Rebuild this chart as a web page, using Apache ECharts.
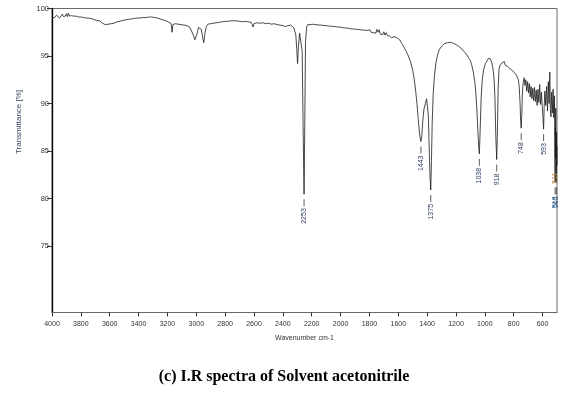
<!DOCTYPE html>
<html>
<head>
<meta charset="utf-8">
<script src="https://cdn.jsdelivr.net/npm/echarts@6/dist/echarts.min.js"></script>
<style>
html,body{margin:0;padding:0;background:#fff;}
#chart{width:579px;height:396px;}
</style>
</head>
<body>
<div id="chart"></div>
<script>
// IR spectrum of acetonitrile: [wavenumber cm-1, transmittance %]
const irSpectrum = [
[4000,99.15],[3993,99.3],[3986,99.0],[3980,99.2],[3974,99.05],[3968,99.3],[3962,99.1],[3955,99.25],
[3948,99.0],[3942,99.2],[3935,99.1],[3928,99.4],[3921,99.15],[3914,99.35],[3907,99.2],[3900,99.45],
[3893,99.15],[3886,99.5],[3879,99.2],[3872,99.4],[3865,99.25],[3858,99.45],[3851,99.2],[3844,99.4],
[3837,99.2],[3830,99.35],[3823,99.15],[3816,99.3],[3809,99.1],[3802,99.3],[3795,99.1],[3788,99.25],
[3781,99.05],[3774,99.2],[3767,99.0],[3760,99.15],[3750,99.0],[3740,99.1],[3730,98.95],[3720,99.0],
[3710,98.85],[3700,98.9],[3690,98.75],[3680,98.8],[3670,98.7],[3660,98.75],[3650,98.45],[3640,98.55],
[3630,98.3],[3620,98.5],[3610,98.35],[3600,98.5],[3590,98.4],[3580,98.6],[3570,98.45],[3560,98.65],
[3550,98.6],[3540,98.75],[3530,98.65],[3520,98.8],[3510,98.75],[3500,98.85],[3490,98.8],[3480,98.95],
[3470,98.85],[3460,99.0],[3450,98.9],[3440,99.05],[3430,98.95],[3420,99.1],[3410,99.0],[3400,99.1],
[3390,99.0],[3380,99.15],[3370,99.05],[3360,99.15],[3350,99.05],[3340,99.2],[3330,99.1],[3320,99.2],
[3310,99.1],[3300,99.15],[3290,99.05],[3280,99.1],[3270,99.0],[3260,99.05],[3250,98.9],[3240,98.95],
[3230,98.8],[3220,98.85],[3210,98.7],[3200,98.75],[3190,98.55],[3180,98.6],[3174,98.4],[3168,97.5],
[3162,98.3],[3155,98.5],[3145,98.4],[3135,98.5],[3125,98.35],[3115,98.45],[3105,98.3],[3095,98.4],
[3085,98.25],[3075,98.35],[3065,98.2],[3055,98.25],[3045,98.0],[3035,97.7],[3020,97.2],[3010,96.7],
[3003,96.5],[2995,97.3],[2985,98.0],[2975,98.2],[2965,97.8],[2955,96.9],[2948,96.4],[2940,97.4],
[2930,98.1],[2920,98.35],[2910,98.25],[2900,98.4],[2890,98.3],[2880,98.45],[2870,98.35],[2860,98.5],
[2850,98.4],[2840,98.55],[2830,98.45],[2820,98.6],[2810,98.5],[2800,98.65],[2790,98.55],[2780,98.65],
[2770,98.6],[2760,98.7],[2750,98.6],[2740,98.7],[2730,98.6],[2720,98.7],[2710,98.55],[2700,98.65],
[2690,98.55],[2680,98.6],[2670,98.5],[2660,98.65],[2650,98.5],[2640,98.6],[2630,98.5],[2620,98.55],
[2612,98.3],[2607,98.05],[2600,98.4],[2590,98.55],[2580,98.5],[2570,98.6],[2560,98.45],[2550,98.6],
[2540,98.5],[2530,98.55],[2520,98.4],[2510,98.55],[2500,98.45],[2490,98.5],[2480,98.35],[2470,98.5],
[2460,98.4],[2450,98.45],[2440,98.3],[2430,98.4],[2420,98.25],[2410,98.35],[2400,98.2],[2390,98.3],
[2382,98.1],[2374,97.9],[2365,98.2],[2355,98.35],[2345,98.25],[2335,98.3],[2325,98.0],[2318,97.9],
[2310,97.2],[2304,95.8],[2298,94.2],[2292,96.0],[2284,97.4],[2274,97.2],[2266,95.5],[2260,88.0],
[2253,80.45],[2248,88.0],[2243,96.5],[2235,98.05],[2228,98.3],[2220,98.15],[2212,98.3],[2204,98.2],
[2196,98.35],[2188,98.2],[2180,98.3],[2172,98.15],[2164,98.3],[2156,98.2],[2148,98.25],[2140,98.1],
[2132,98.25],[2124,98.1],[2116,98.2],[2108,98.05],[2100,98.2],[2092,98.05],[2084,98.15],[2076,98.0],
[2068,98.15],[2060,98.0],[2052,98.1],[2044,97.95],[2036,98.1],[2028,97.95],[2020,98.05],[2012,97.9],
[2004,98.05],[1996,97.9],[1988,98.0],[1980,97.85],[1972,97.95],[1964,97.8],[1956,97.95],[1948,97.8],
[1940,97.9],[1932,97.75],[1924,97.85],[1916,97.7],[1908,97.85],[1900,97.7],[1892,97.8],[1884,97.65],
[1876,97.8],[1868,97.65],[1860,97.75],[1852,97.6],[1844,97.75],[1836,97.6],[1828,97.7],[1820,97.55],
[1812,97.7],[1804,97.55],[1796,97.75],[1788,97.5],[1780,97.7],[1772,97.45],[1764,97.6],[1756,97.4],
[1748,97.8],[1740,97.5],[1732,97.75],[1724,97.3],[1716,97.5],[1708,97.25],[1700,97.55],[1692,97.2],
[1684,97.45],[1676,97.15],[1668,97.35],[1660,97.1],[1652,97.2],[1645,96.9],[1638,96.75],[1630,97.05],
[1622,97.15],[1614,96.95],[1605,96.9],[1590,96.7],[1575,96.3],[1560,95.9],[1545,95.5],[1530,95.0],
[1515,94.4],[1500,93.5],[1490,92.6],[1480,91.4],[1470,89.9],[1462,88.4],[1455,87.2],[1449,86.4],
[1443,86.0],[1437,86.6],[1430,88.2],[1422,89.4],[1412,90.0],[1404,90.5],[1398,90.3],[1392,88.8],
[1386,85.5],[1380,82.3],[1375,80.9],[1370,84.0],[1365,88.0],[1358,91.0],[1350,92.8],[1340,94.2],
[1328,95.1],[1315,95.7],[1300,96.0],[1290,96.15],[1280,96.3],[1270,96.25],[1260,96.4],[1250,96.35],
[1240,96.45],[1230,96.3],[1220,96.35],[1210,96.2],[1200,96.2],[1190,96.05],[1180,96.0],[1170,95.85],
[1160,95.75],[1150,95.6],[1140,95.4],[1130,95.25],[1120,95.0],[1110,94.75],[1100,94.5],[1092,94.1],
[1080,93.3],[1070,92.3],[1062,91.0],[1055,89.3],[1048,87.0],[1042,85.3],[1038,84.7],[1033,87.0],
[1026,90.5],[1018,92.5],[1008,93.6],[996,94.2],[984,94.5],[976,94.75],[970,94.6],[962,94.7],
[952,94.3],[944,93.7],[936,92.6],[930,90.5],[924,86.5],[918,84.1],[913,87.0],[908,91.5],
[902,93.6],[895,94.0],[888,93.8],[880,94.3],[872,94.1],[865,94.4],[858,94.0],[850,94.2],
[842,93.9],[835,94.1],[828,93.7],[820,93.9],[812,93.5],[805,93.7],[798,93.3],[790,93.4],
[782,93.0],[775,92.9],[768,92.5],[762,91.8],[756,90.0],[752,88.2],[748,87.4],[744,88.8],
[740,91.0],[734,92.3],[728,92.7],[722,91.9],[716,92.5],[710,91.3],[704,92.3],[698,91.1],
[692,92.1],[686,90.7],[680,91.8],[674,90.5],[668,91.6],[662,90.3],[656,91.7],[650,90.2],
[644,91.4],[638,89.8],[632,91.5],[626,90.1],[620,92.0],[614,89.9],[608,91.2],[602,89.6],
[597,88.5],[593,87.3],[589,89.6],[584,91.3],[578,89.8],[572,91.8],[566,89.2],[560,92.3],
[555,90.0],[550,93.3],[546,89.5],[542,88.6],[537,91.2],[532,89.0],[527,91.5],[522,88.5],
[518,90.8],[515,86.0],[513,81.7],[512,87.5],[511,84.2],[509,89.5],[507,86.0],[505,81.7],
[503,87.0],[501,83.5],[500,85.5]
];

// Peak annotations
const peakWavenumbers = [2253, 1443, 1375, 1038, 918, 748, 593, 511, 513, 505];
const peakTransmittance = [80.45, 86.0, 80.9, 84.7, 84.1, 87.4, 87.3, 84.2, 81.7, 81.7];
const peakColors = ['#2c3a66','#2c3a66','#2c3a66','#2c3a66','#2c3a66','#2c3a66','#2c3a66','#c07a28','#2c5a8a','#2c5a8a'];

// Axis ticks
const xTicks = [4000,3800,3600,3400,3200,3000,2800,2600,2400,2200,2000,1800,1600,1400,1200,1000,800,600];
const yTicks = [75,80,85,90,95,100];

const chart = echarts.init(document.getElementById('chart'), null, {renderer:'canvas'});
const font = 'Liberation Sans, Arial, sans-serif';

chart.setOption({
  animation: false,
  backgroundColor: '#fff',
  grid: {left: 52, right: 22, top: 8.5, bottom: 83.5, show: true, borderColor: '#6a6a6a', borderWidth: 1, containLabel: false},
  xAxis: {
    type: 'value', inverse: true, min: 500, max: 4000,
    axisLine: {show: true, lineStyle: {color: '#666', width: 1}},
    axisTick: {show: true, customValues: xTicks, length: 4, lineStyle: {color: '#333', width: 1}},
    axisLabel: {customValues: xTicks, fontSize: 7, color: '#333', margin: 8, fontFamily: font,
                formatter: function (v) { return String(v); }},
    splitLine: {show: false},
    name: 'Wavenumber cm-1', nameLocation: 'middle', nameGap: 22,
    nameTextStyle: {fontSize: 7, color: '#333', fontFamily: font}
  },
  yAxis: {
    type: 'value', min: 68, max: 100,
    axisLine: {show: true, lineStyle: {color: '#000', width: 1.3}},
    axisTick: {show: true, customValues: yTicks, length: 5, lineStyle: {color: '#333', width: 1}},
    axisLabel: {customValues: yTicks, fontSize: 7.5, color: '#333', margin: 3, fontFamily: font},
    splitLine: {show: false}
  },
  graphic: [
    {type: 'text', x: 19, y: 122, rotation: Math.PI / 2,
     style: {text: 'Transmittance [%]', fontSize: 8, fill: '#3a4560', fontFamily: font, align: 'center', verticalAlign: 'middle'}},
    {type: 'text', x: 284, y: 377,
     style: {text: '(c) I.R spectra of Solvent acetonitrile', fontSize: 16, fontWeight: 'bold', fill: '#000',
             fontFamily: 'Liberation Serif, Times New Roman, serif', align: 'center', verticalAlign: 'middle'}}
  ],
  series: [
    {
      type: 'line', data: irSpectrum, showSymbol: false, symbol: 'none',
      lineStyle: {color: '#1a1a1a', width: 0.8}, z: 3
    },
    {
      type: 'custom', z: 4,
      data: peakWavenumbers.map((w, i) => [w, peakTransmittance[i]]),
      renderItem: function (params, api) {
        const p = api.coord([api.value(0), api.value(1)]);
        const i = params.dataIndex;
        return {
          type: 'group',
          children: [
            {type: 'line', shape: {x1: p[0], y1: p[1] + 5, x2: p[0], y2: p[1] + 12},
             style: {stroke: '#333', lineWidth: 0.8}},
            {type: 'text', x: p[0], y: p[1] + 14, rotation: Math.PI / 2,
             style: {text: String(peakWavenumbers[i]), fontSize: 7, fill: peakColors[i], fontFamily: font,
                     align: 'right', verticalAlign: 'middle'}}
          ]
        };
      }
    }
  ]
});
</script>
</body>
</html>
